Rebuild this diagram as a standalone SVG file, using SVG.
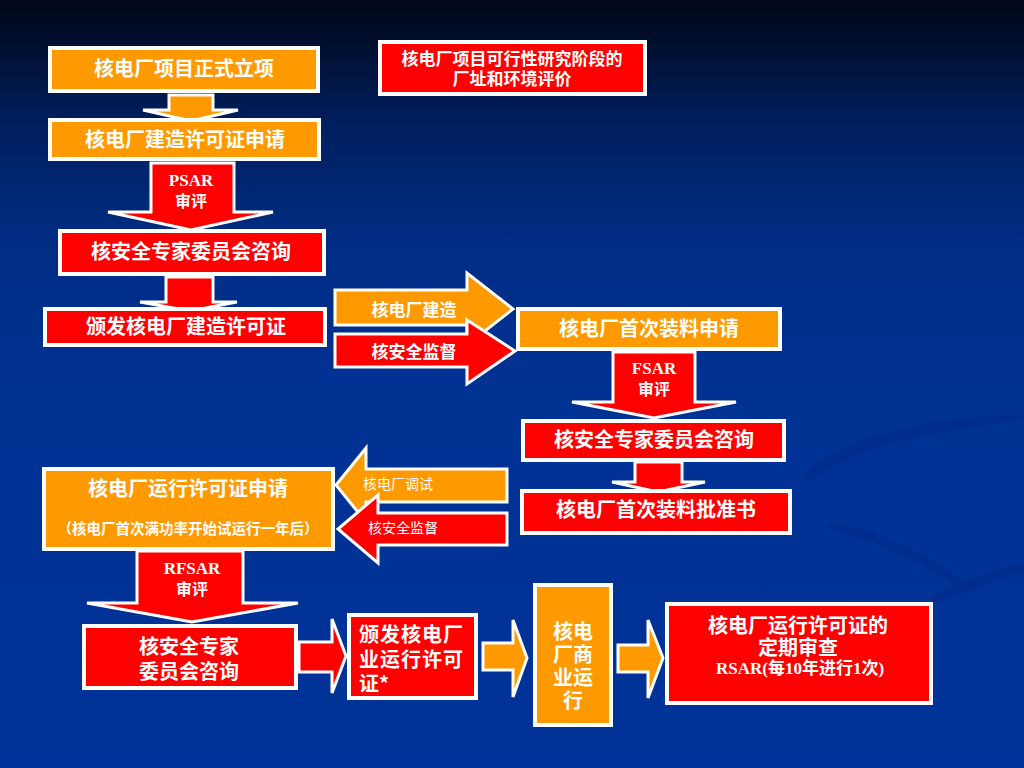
<svg xmlns="http://www.w3.org/2000/svg" width="1024" height="768" viewBox="0 0 1024 768">
<defs>
<linearGradient id="bg" x1="0" y1="0" x2="0" y2="1">
<stop offset="0" stop-color="#000818"/>
<stop offset="0.05" stop-color="#000e2c"/>
<stop offset="0.16" stop-color="#001f5e"/>
<stop offset="0.32" stop-color="#002d84"/>
<stop offset="0.5" stop-color="#003294"/>
<stop offset="1" stop-color="#003399"/>
</linearGradient>
<style>
.o{fill:#FF9900;stroke:#FFFFFF;stroke-width:4}
.r{fill:#FF0000;stroke:#FFFFFF;stroke-width:4}
.ao{fill:#FF9900;stroke:#FFFFFF;stroke-width:3;stroke-linejoin:miter}
.ar{fill:#FF0000;stroke:#FFFFFF;stroke-width:3;stroke-linejoin:miter}
text{fill:#FFFFFF;font-family:"Noto Sans CJK SC","Liberation Sans",sans-serif;font-weight:bold;dominant-baseline:central}
.t20{font-size:20px;text-anchor:middle}
.t17{font-size:17px;text-anchor:middle}
.t16{font-size:16px;text-anchor:middle}
.t14{font-size:14px;text-anchor:middle;font-weight:normal}
.s{font-family:"Liberation Serif","Noto Sans CJK SC",serif;font-size:17px;text-anchor:middle}
</style>
</defs>
<rect x="0" y="0" width="1024" height="768" fill="url(#bg)"/>
<g id="swirl" fill="#002a86" opacity="0.55">
<path d="M800,478 C830,440 920,420 1020,414 L1024,420 C930,430 850,448 812,480 Z"/>
<path d="M828,522 C880,530 940,560 968,585 L960,588 C930,566 875,540 826,528 Z"/>
<path d="M930,598 C960,580 1000,568 1024,562 L1024,572 C1000,578 965,590 936,604 Z"/>
</g>
<g id="connectors">
<polygon class="ao" points="169,95 213,95 213,110 238,110 191,121 143,110 169,110"/>
<polygon class="ar" points="151,163 234,163 234,212 273,212 191,230 108,212 151,212"/>
<polygon class="ar" points="166,277 213,277 213,302 237,302 190,311 140,302 166,302"/>
<polygon class="ao" points="335,290 467,290 467,273 513,309 467,345 467,325 335,325"/>
<polygon class="ar" points="335,334 467,334 467,320 515,351 467,384 467,367 335,367"/>
<polygon class="ar" points="613,352 695,352 695,402 736,402 654,418 572,402 613,402"/>
<polygon class="ar" points="635,462 682,462 682,482 705,482 658,492 612,482 635,482"/>
<polygon class="ao" points="507,469 366,469 366,448 336,485 366,522 366,502 507,502"/>
<polygon class="ar" points="507,513 378,513 378,495 338,529 378,563 378,545 507,545"/>
<polygon class="ar" points="137,551 243,551 243,603 298,603 192,622 87,603 137,603"/>
<polygon class="ar" points="299,642 332,642 332,619 346,656 332,693 332,672 299,672"/>
<polygon class="ao" points="483,643 513,643 513,620 527,658 513,697 513,670 483,670"/>
<polygon class="ao" points="618,645 648,645 648,620 663,658 648,698 648,672 618,672"/>
<text class="s" x="191" y="180">PSAR</text>
<text class="t16" x="191" y="200">审评</text>
<text class="t17" x="414" y="308">核电厂建造</text>
<text class="t17" x="414" y="350">核安全监督</text>
<text class="s" x="654" y="368">FSAR</text>
<text class="t16" x="654" y="388">审评</text>
<text class="t14" x="398" y="483">核电厂调试</text>
<text class="t14" x="403" y="527">核安全监督</text>
<text class="s" x="192" y="568">RFSAR</text>
<text class="t16" x="192" y="588">审评</text>
</g>
<g id="n1"><rect class="o" x="50" y="48" width="268" height="43"/><text class="t20" x="184" y="67">核电厂项目正式立项</text></g>
<g id="n2"><rect class="o" x="50" y="120" width="269" height="39"/><text class="t20" x="185" y="138">核电厂建造许可证申请</text></g>
<g id="n3"><rect class="r" x="60" y="231" width="264" height="43"/><text class="t20" x="191" y="250">核安全专家委员会咨询</text></g>
<g id="n4"><rect class="r" x="45" y="309" width="280" height="36"/><text class="t20" x="186" y="325">颁发核电厂建造许可证</text></g>
<g id="n5"><rect class="r" x="380" y="42" width="265" height="52"/><text class="t17" x="512" y="57">核电厂项目可行性研究阶段的</text><text class="t17" x="512" y="77">厂址和环境评价</text></g>
<g id="n6"><rect class="o" x="518" y="309" width="262" height="40"/><text class="t20" x="649" y="327">核电厂首次装料申请</text></g>
<g id="n7"><rect class="r" x="523" y="421" width="261" height="39"/><text class="t20" x="654" y="438">核安全专家委员会咨询</text></g>
<g id="n8"><rect class="r" x="522" y="491" width="268" height="42"/><text class="t20" x="656" y="508">核电厂首次装料批准书</text></g>
<g id="n9"><rect class="o" x="44" y="469" width="289" height="80"/><text class="t20" x="188" y="487">核电厂运行许可证申请</text><text class="t14" style="font-size:14.5px;font-weight:bold" x="188" y="527">（核电厂首次满功率开始试运行一年后）</text></g>
<g id="n10"><rect class="r" x="84" y="626" width="212" height="62"/><text class="t20" x="189" y="645">核安全专家</text><text class="t20" x="189" y="670">委员会咨询</text></g>
<g id="n11"><rect class="r" x="349" y="615" width="127" height="83"/><text style="font-size:20px;letter-spacing:1px" x="359" y="633">颁发核电厂</text><text style="font-size:20px;letter-spacing:1px" x="359" y="658">业运行许可</text><text style="font-size:20px" x="359" y="682">证*</text></g>
<g id="n12"><rect class="o" x="535" y="585" width="76" height="140"/><text class="t20" x="573" y="630">核电</text><text class="t20" x="573" y="653">厂商</text><text class="t20" x="573" y="676">业运</text><text class="t20" x="573" y="699">行</text></g>
<g id="n13"><rect class="r" x="667" y="604" width="264" height="99"/><text class="t20" x="798" y="624">核电厂运行许可证的</text><text class="t20" x="798" y="646">定期审查</text><text class="s" x="800" y="668">RSAR(每10年进行1次)</text></g>
</svg>
